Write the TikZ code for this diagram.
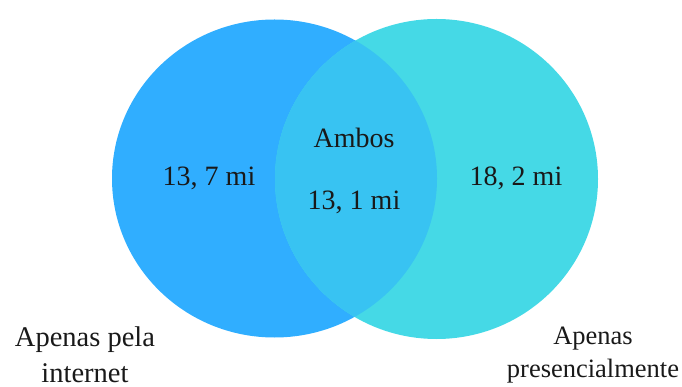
\documentclass[tikz,border=0pt]{standalone}
\usepackage{fontspec}
\setmainfont{Liberation Serif}
\definecolor{leftc}{RGB}{48,174,255}
\definecolor{rightc}{RGB}{69,217,230}
\definecolor{bothc}{RGB}{56,195,242}
\begin{document}
\begin{tikzpicture}[x=1pt,y=-1pt,
  lbl/.style={anchor=base,inner sep=0pt,font=\fontsize{28}{32}\selectfont,text=black!90},
  side/.style={anchor=base,inner sep=0pt,font=\fontsize{28.5}{32}\selectfont,text=black!90},
  sider/.style={anchor=base,inner sep=0pt,font=\fontsize{26.5}{32}\selectfont,text=black!90}]
\useasboundingbox (0,0) rectangle (682,387);
\fill[leftc] (274.5,178.5) ellipse [x radius=162.5, y radius=159];
\fill[rightc] (436.5,179) ellipse [x radius=161.5, y radius=160];
\begin{scope}
\clip (274.5,178.5) ellipse [x radius=162.5, y radius=159];
\fill[bothc] (436.5,179) ellipse [x radius=161.5, y radius=160];
\end{scope}
\node[lbl] (a) at (209,186) {13, 7 mi};
\node[lbl] (b) at (354,148) {Ambos};
\node[lbl] (c) at (354,210) {13, 1 mi};
\node[lbl] (d) at (516,186) {18, 2 mi};
\node[side] (e) at (85,346) {Apenas pela};
\node[side] (f) at (85,382) {internet};
\node[sider] (g) at (593,344) {Apenas};
\node[sider] (h) at (593,377) {presencialmente};
\end{tikzpicture}
\end{document}
